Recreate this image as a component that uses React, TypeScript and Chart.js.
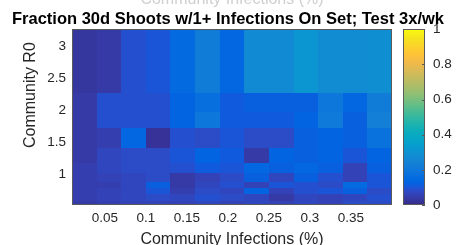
import React, { useEffect, useRef } from "react";
import { Chart, registerables } from "chart.js";

Chart.register(...registerables);

// ---- data ----
const titleText = "Fraction 30d Shoots w/1+ Infections On Set; Test 3x/wk";
const xTitle = "Community Infections (%)";
const yTitle = "Community R0";

// column (community infections %) bin edges
const infectionEdges = [0.01, 0.04, 0.07, 0.1, 0.13, 0.16, 0.19, 0.22, 0.25, 0.28, 0.31, 0.34, 0.37, 0.4];
// row (community R0) bin edges, bottom to top
const r0Edges = [0.52, 0.59, 0.69, 0.78, 0.875, 1.02, 1.17, 1.41, 1.73, 1.97, 2.27, 3.27];

// fraction of shoots, rows bottom (low R0) to top (high R0)
const fractionGrid = [
  [0.04, 0.05, 0.06, 0.06, 0.06, 0.07, 0.06, 0.07, 0.06, 0.07, 0.06, 0.08, 0.08],
  [0.05, 0.06, 0.07, 0.08, 0.07, 0.09, 0.08, 0.07, 0.04, 0.07, 0.06, 0.07, 0.09],
  [0.05, 0.06, 0.07, 0.1, 0.05, 0.08, 0.07, 0.13, 0.06, 0.09, 0.1, 0.12, 0.08],
  [0.05, 0.05, 0.07, 0.12, 0.04, 0.07, 0.09, 0.06, 0.1, 0.09, 0.08, 0.15, 0.1],
  [0.05, 0.06, 0.07, 0.08, 0.04, 0.06, 0.08, 0.12, 0.07, 0.12, 0.09, 0.06, 0.1],
  [0.05, 0.07, 0.08, 0.08, 0.09, 0.11, 0.1, 0.14, 0.12, 0.14, 0.12, 0.06, 0.12],
  [0.04, 0.07, 0.08, 0.08, 0.1, 0.13, 0.11, 0.04, 0.13, 0.12, 0.13, 0.1, 0.13],
  [0.04, 0.05, 0.14, 0.02, 0.09, 0.08, 0.1, 0.08, 0.08, 0.12, 0.13, 0.12, 0.18],
  [0.04, 0.09, 0.09, 0.09, 0.13, 0.2, 0.11, 0.11, 0.11, 0.13, 0.21, 0.12, 0.23],
  [0.04, 0.09, 0.09, 0.09, 0.13, 0.17, 0.11, 0.12, 0.12, 0.12, 0.2, 0.14, 0.22],
  [0.03, 0.04, 0.09, 0.1, 0.15, 0.22, 0.14, 0.27, 0.27, 0.31, 0.28, 0.28, 0.29],
];

const xTicks = [0.05, 0.1, 0.15, 0.2, 0.25, 0.3, 0.35];
const yTicks = [1, 1.5, 2, 2.5, 3];
const cbTicks = [0, 0.2, 0.4, 0.6, 0.8, 1];
const cbRange = [0, 1];

// ---- style ----
const FONT = "'Liberation Sans', Arial, Helvetica, sans-serif";
const TEXT = "#262626";

// parula colormap anchors [position, r, g, b]
const PARULA: number[][] = [
  [0 / 63, 0.2081, 0.1663, 0.5292],
  [1 / 63, 0.2116, 0.1898, 0.5777],
  [2 / 63, 0.2123, 0.2138, 0.627],
  [3 / 63, 0.2081, 0.2386, 0.6771],
  [4 / 63, 0.1959, 0.2645, 0.7279],
  [5 / 63, 0.1707, 0.2919, 0.7792],
  [6 / 63, 0.1253, 0.3242, 0.8303],
  [7 / 63, 0.0591, 0.3598, 0.8683],
  [8 / 63, 0.0117, 0.3875, 0.882],
  [9 / 63, 0.006, 0.4086, 0.8828],
  [12 / 63, 0.0498, 0.4586, 0.8641],
  [15 / 63, 0.0779, 0.504, 0.8384],
  [18 / 63, 0.0641, 0.557, 0.824],
  [21 / 63, 0.0265, 0.6137, 0.8135],
  [24 / 63, 0.0228, 0.6535, 0.7768],
  [27 / 63, 0.059, 0.6838, 0.7254],
  [30 / 63, 0.1453, 0.7098, 0.6646],
  [33 / 63, 0.2586, 0.7317, 0.5954],
  [36 / 63, 0.3953, 0.7459, 0.5244],
  [39 / 63, 0.53, 0.7491, 0.4661],
  [42 / 63, 0.6473, 0.7456, 0.4188],
  [45 / 63, 0.7525, 0.7384, 0.3768],
  [48 / 63, 0.8507, 0.7299, 0.336],
  [51 / 63, 0.945, 0.7261, 0.2886],
  [54 / 63, 0.999, 0.7653, 0.2164],
  [57 / 63, 0.9789, 0.8271, 0.1633],
  [60 / 63, 0.9589, 0.8949, 0.1132],
  [63 / 63, 0.9763, 0.9831, 0.0538],
];

function parula(t: number): string {
  const v = Math.max(0, Math.min(1, t));
  for (let i = 1; i < PARULA.length; i++) {
    const a = PARULA[i - 1];
    const b = PARULA[i];
    if (v <= b[0]) {
      const f = (v - a[0]) / (b[0] - a[0] || 1);
      const c = [1, 2, 3].map((k) => Math.round(255 * (a[k] + (b[k] - a[k]) * f)));
      return `rgb(${c[0]},${c[1]},${c[2]})`;
    }
  }
  const l = PARULA[PARULA.length - 1];
  return `rgb(${Math.round(l[1] * 255)},${Math.round(l[2] * 255)},${Math.round(l[3] * 255)})`;
}

const heatmapPlugin = {
  id: "heatmapCells",
  beforeDatasetsDraw(chart: any) {
    const { ctx, scales } = chart;
    const xs = scales.x;
    const ys = scales.y;
    ctx.save();
    for (let r = 0; r < fractionGrid.length; r++) {
      const yTop = Math.round(ys.getPixelForValue(r0Edges[r + 1]));
      const yBot = Math.round(ys.getPixelForValue(r0Edges[r]));
      for (let c = 0; c < fractionGrid[r].length; c++) {
        const x0 = Math.round(xs.getPixelForValue(infectionEdges[c]));
        const x1 = Math.round(xs.getPixelForValue(infectionEdges[c + 1]));
        ctx.fillStyle = parula(fractionGrid[r][c]);
        ctx.fillRect(x0, yTop, x1 - x0, yBot - yTop);
      }
    }
    ctx.restore();
  },
  afterDraw(chart: any) {
    const { ctx, chartArea, scales } = chart;
    ctx.save();
    // axes box
    ctx.strokeStyle = "#5a5a5a";
    ctx.lineWidth = 1;
    ctx.strokeRect(
      Math.round(chartArea.left) + 0.5,
      Math.round(chartArea.top) + 0.5,
      Math.round(chartArea.right - chartArea.left) - 1,
      Math.round(chartArea.bottom - chartArea.top) - 1
    );
    // colorbar
    const cb = scales.cb;
    const top = cb.getPixelForValue(cbRange[1]);
    const bot = cb.getPixelForValue(cbRange[0]);
    const x0 = Math.round(chartArea.right) + 11;
    const w = 22;
    const grad = ctx.createLinearGradient(0, bot, 0, top);
    for (const a of PARULA) {
      grad.addColorStop(a[0], `rgb(${Math.round(a[1] * 255)},${Math.round(a[2] * 255)},${Math.round(a[3] * 255)})`);
    }
    ctx.fillStyle = grad;
    ctx.fillRect(x0, top, w, bot - top);
    ctx.strokeStyle = "#5a5a5a";
    ctx.strokeRect(x0 + 0.5, Math.round(top) + 0.5, w - 1, Math.round(bot - top) - 1);
    ctx.beginPath();
    for (const t of cbTicks) {
      const py = Math.round(cb.getPixelForValue(t)) + 0.5;
      ctx.moveTo(x0 + w - 3, py);
      ctx.lineTo(x0 + w, py);
    }
    ctx.stroke();
    // y axis title
    const ys = scales.y;
    ctx.fillStyle = TEXT;
    ctx.font = `16px ${FONT}`;
    ctx.textAlign = "center";
    ctx.textBaseline = "middle";
    ctx.translate(ys.left + 31, ys.getPixelForValue(2.24));
    ctx.rotate(-Math.PI / 2);
    ctx.fillText(yTitle, 0, 0);
    ctx.setTransform(1, 0, 0, 1, 0, 0);
    // partially visible text at the very top
    ctx.fillStyle = "#cfcfcf";
    ctx.textBaseline = "alphabetic";
    ctx.fillText(xTitle, (chartArea.left + chartArea.right) / 2, 4);
    ctx.restore();
  },
};

const fmt = (v: any) => String(Math.round(Number(v) * 100) / 100);
const noPad = (s: any) => {
  s.paddingTop = 0;
  s.paddingBottom = 0;
};

export default function App() {
  const ref = useRef<HTMLCanvasElement>(null);
  useEffect(() => {
    const canvas = ref.current;
    if (!canvas) return;
    const centers: { x: number; y: number }[] = [];
    for (let r = 0; r < fractionGrid.length; r++) {
      for (let c = 0; c < fractionGrid[r].length; c++) {
        centers.push({
          x: (infectionEdges[c] + infectionEdges[c + 1]) / 2,
          y: (r0Edges[r] + r0Edges[r + 1]) / 2,
        });
      }
    }
    const chart = new Chart(canvas, {
      type: "scatter",
      data: { datasets: [{ data: centers, pointRadius: 0, pointHoverRadius: 0 }] },
      options: {
        animation: false,
        responsive: false,
        events: [],
        layout: { padding: 0 },
        plugins: {
          legend: { display: false },
          tooltip: { enabled: false },
          title: {
            display: true,
            text: titleText,
            color: "#000",
            font: { family: FONT, size: 16.5, weight: "bold" },
            padding: { top: 9.5, bottom: 0 },
          },
        },
        scales: {
          x: {
            type: "linear",
            min: infectionEdges[0],
            max: infectionEdges[infectionEdges.length - 1],
            grid: { display: false, drawTicks: false },
            border: { display: false },
            afterBuildTicks: (s: any) => {
              s.ticks = xTicks.map((v) => ({ value: v }));
            },
            afterFit: (s: any) => {
              s.height = 40;
              s.paddingLeft = 0;
              s.paddingRight = 0;
            },
            ticks: {
              padding: 5,
              color: TEXT,
              font: { family: FONT, size: 13.5 },
              maxRotation: 0,
              autoSkip: false,
              callback: fmt,
            },
            title: {
              display: true,
              text: xTitle,
              color: TEXT,
              font: { family: FONT, size: 16 },
              padding: { top: 0, bottom: -4 },
            },
          },
          y: {
            type: "linear",
            position: "left",
            min: r0Edges[0],
            max: r0Edges[r0Edges.length - 1],
            grid: { display: false, drawTicks: false },
            border: { display: false },
            afterBuildTicks: (s: any) => {
              s.ticks = yTicks.map((v) => ({ value: v }));
            },
            afterFit: (s: any) => {
              s.width = 72;
              noPad(s);
            },
            ticks: {
              padding: 6,
              color: TEXT,
              font: { family: FONT, size: 13.5 },
              autoSkip: false,
              callback: fmt,
            },
          },
          cb: {
            type: "linear",
            axis: "y",
            position: "right",
            min: cbRange[0],
            max: cbRange[1],
            grid: { display: false, drawTicks: false },
            border: { display: false },
            afterBuildTicks: (s: any) => {
              s.ticks = cbTicks.map((v) => ({ value: v }));
            },
            afterFit: (s: any) => {
              s.width = 64;
              noPad(s);
            },
            ticks: {
              padding: 41,
              color: TEXT,
              font: { family: FONT, size: 13.5 },
              autoSkip: false,
              callback: fmt,
            },
          },
        },
      } as any,
      plugins: [heatmapPlugin],
    });
    return () => chart.destroy();
  }, []);
  return (
    <div style={{ position: "fixed", left: 0, top: 0, width: 456, height: 245, background: "#fff" }}>
      <canvas ref={ref} width={456} height={245} style={{ display: "block" }} />
    </div>
  );
}
